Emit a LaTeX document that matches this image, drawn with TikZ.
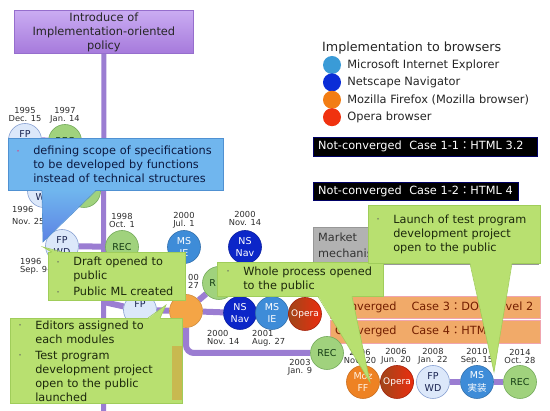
\documentclass[tikz,border=0pt]{standalone}
\usepackage{fontspec}
\setmainfont{DejaVu Sans}
\setsansfont{DejaVu Sans}
\newfontfamily\cjk{Noto Sans CJK JP}
\usepackage{xcolor}
\definecolor{policytop}{RGB}{202,172,242}
\definecolor{policybottom}{RGB}{166,122,220}
\definecolor{policyframe}{RGB}{150,110,205}
\definecolor{barpurple}{RGB}{155,125,210}
\definecolor{fpfill}{RGB}{220,232,250}
\definecolor{fpframe}{RGB}{135,160,210}
\definecolor{fptext}{RGB}{25,35,80}
\definecolor{recfill}{RGB}{160,210,125}
\definecolor{recframe}{RGB}{115,170,90}
\definecolor{rectext}{RGB}{20,60,20}
\definecolor{msie}{RGB}{62,140,216}
\definecolor{nsnav}{RGB}{12,38,200}
\definecolor{mozorange}{RGB}{238,130,35}
\definecolor{mozlight}{RGB}{244,165,70}
\definecolor{operared}{RGB}{235,45,15}
\definecolor{operabrown}{RGB}{160,70,25}
\definecolor{legie}{RGB}{58,155,215}
\definecolor{legns}{RGB}{10,45,215}
\definecolor{legmoz}{RGB}{242,125,20}
\definecolor{legop}{RGB}{240,50,15}
\definecolor{calloutblue}{RGB}{112,182,238}
\definecolor{calloutdeep}{RGB}{92,130,228}
\definecolor{calloutblueframe}{RGB}{80,145,210}
\definecolor{bluetext}{RGB}{12,25,65}
\definecolor{bulpink}{RGB}{200,90,150}
\definecolor{calloutgreen}{RGB}{184,224,112}
\definecolor{calloutgreenframe}{RGB}{160,205,90}
\definecolor{greentext}{RGB}{28,40,12}
\definecolor{bulgray}{RGB}{120,130,100}
\definecolor{convorange}{RGB}{241,170,105}
\definecolor{convframe}{RGB}{240,165,175}
\definecolor{convtext}{RGB}{115,30,0}
\definecolor{marketgray}{RGB}{178,178,178}
\definecolor{datetext}{RGB}{45,45,45}
\definecolor{khaki}{RGB}{200,185,80}
\usepackage{tikz}
\usetikzlibrary{positioning,backgrounds}
\newcommand{\bul}{\makebox[18pt][l]{\hspace{1pt}\raisebox{1.5pt}{\textcolor{bulgray}{\fontsize{6}{6}\selectfont\textbullet}}}}
\newcommand{\bulp}{\makebox[18pt][l]{\hspace{1pt}\raisebox{1.5pt}{\textcolor{bulpink}{\fontsize{6}{6}\selectfont\textbullet}}}}
\newcommand{\ind}{\hspace*{18pt}}
\tikzset{
  policy_box/.style={rectangle,draw=policyframe,top color=policytop,
    bottom color=policybottom,line width=0.8pt,anchor=north west,
    minimum width=179pt,minimum height=43pt,align=center,
    text=black!85,font=\fontsize{11.4}{14}\selectfont,inner sep=0pt},
  ev/.style={circle,minimum size=33pt,inner sep=0pt,align=center,
    line width=0.6pt,font=\fontsize{9.5}{12.5}\selectfont},
  ev_fp/.style={ev,draw=fpframe,fill=fpfill,text=fptext},
  ev_rec/.style={ev,draw=recframe,fill=recfill,text=rectext},
  ev_ie/.style={ev,draw=msie!80!black,fill=msie,text=white},
  ev_ns/.style={ev,draw=nsnav!80!black,fill=nsnav,text=white},
  ev_moz/.style={ev,draw=mozorange!85!black,fill=mozorange,text=white!90!orange},
  ev_opera/.style={ev,draw=operared!70!black,left color=operabrown,
    right color=operared,text=white},
  date_lbl/.style={font=\fontsize{8.3}{8}\selectfont,align=center,
    inner sep=0pt,text=datetext},
  lg_dot/.style={circle,minimum size=18pt,inner sep=0pt},
  lg_txt/.style={font=\fontsize{11.4}{13}\selectfont,inner sep=0pt,text=black!85},
  case_black/.style={rectangle,fill=black,draw=black!60!blue,anchor=north west,
    text=white,align=left,font=\fontsize{11.3}{13}\selectfont,
    inner xsep=5pt,inner ysep=0pt},
  case_conv/.style={rectangle,fill=convorange,draw=convframe,anchor=north west,
    text=convtext,align=left,font=\fontsize{11.3}{13}\selectfont,
    inner xsep=5pt,inner ysep=0pt,text width=200pt},
  market_box/.style={rectangle,fill=marketgray,draw=marketgray!85!black,
    anchor=north west,text=black!80,align=left,
    font=\fontsize{11.3}{16}\selectfont,inner xsep=5pt,inner ysep=0pt,
    text width=215pt,minimum height=37pt},
  co_blue/.style={rectangle,fill=calloutblue,draw=calloutblueframe,
    line width=0.6pt,anchor=north west,align=left,text=bluetext,
    font=\fontsize{11.3}{14}\selectfont,inner ysep=0pt},
  co_green/.style={rectangle,fill=calloutgreen,draw=calloutgreenframe,
    line width=0.6pt,anchor=north west,align=left,text=greentext,
    font=\fontsize{11.3}{14}\selectfont,inner ysep=0pt},
  bar/.style={line width=6pt,draw=barpurple},
}

\begin{document}
\begin{tikzpicture}[x=1pt,y=-1pt]
  \useasboundingbox (0,0) rectangle (550,411);
  % policy box and trunk end
  \node (policy) [policy_box] at (14,10)
    {Introduce of\\Implementation-oriented\\policy};
  \coordinate (trunk_end) at (103.5,411);
  \coordinate (j_fp2) at (103.5,302);

  % legend
  \node (lg_title) [lg_txt,font=\fontsize{12.7}{14}\selectfont,anchor=west]
    at (322,48) {Implementation to browsers};
  \node (lg_ie) [lg_dot,fill=legie] at (332,65) {};
  \node (lg_ns) [lg_dot,fill=legns,below=-1pt of lg_ie] {};
  \node (lg_moz) [lg_dot,fill=legmoz,below=-1pt of lg_ns] {};
  \node (lg_op) [lg_dot,fill=legop,below=-1pt of lg_moz] {};
  \node (lgt_ie) [lg_txt,right=6pt of lg_ie] {Microsoft Internet Explorer};
  \node (lgt_ns) [lg_txt,right=6pt of lg_ns] {Netscape Navigator};
  \node (lgt_moz) [lg_txt,right=6pt of lg_moz] {Mozilla Firefox (Mozilla browser)};
  \node (lgt_op) [lg_txt,right=6pt of lg_op] {Opera browser};

  % case boxes
  \node (case11) [case_black,text width=214pt,minimum height=19pt] at (313,137)
    {Not-converged\ \ Case 1-1{\cjk ：}HTML 3.2};
  \node (case12) [case_black,text width=195pt,minimum height=18pt] at (313,182)
    {Not-converged\ \ Case 1-2{\cjk ：}HTML 4};
  \node (market) [market_box] at (313,227) {Market\\mechanism};
  \node (case3) [case_conv,minimum height=22pt] at (330,296)
    {Converged\hspace{15pt}Case 3{\cjk ：}DOM Level 2};
  \node (case4) [case_conv,minimum height=23pt] at (330,320)
    {Converged\hspace{15pt}Case 4{\cjk ：}HTML5};

  % events, first cluster
  \node (c_fp95) [ev_fp] at (25,140) {FP\\\phantom{WD}};
  \node (c_rec97) [ev_rec] at (65,141) {REC};
  \node (d_fp95) [date_lbl,above=1pt of c_fp95] {1995\\Dec. 15};
  \node (d_rec97) [date_lbl,above=1pt of c_rec97] {1997\\Jan. 14};
  \node (c_wd96) [ev_fp] at (44,191) {\phantom{FP}\\WD};
  \node (c_rec96) [ev_rec] at (84,191) {};
  \node (d_wd96) [date_lbl,font=\fontsize{8.3}{12}\selectfont,align=left,
    anchor=north west] at (12,206) {1996\\Nov. 25};
  \node (c_fpwd96) [ev_fp] at (62,246) {FP\\WD};
  \node (d_fpwd96) [date_lbl,align=left,anchor=north west] at (20,258)
    {1996\\Sep. 9-};
  \node (c_rec98) [ev_rec] at (122,247) {REC};
  \node (d_rec98) [date_lbl,above=2pt of c_rec98] {1998\\Oct. 1};
  \node (c_ie00) [ev_ie] at (184,247) {MS\\IE};
  \node (d_ie00) [date_lbl,above=2pt of c_ie00] {2000\\Jul. 1};
  \node (c_ns00) [ev_ns] at (245,247) {NS\\Nav};
  \node (d_ns00) [date_lbl,above=4pt of c_ns00] {2000\\Nov. 14};

  % events, second row
  \node (c_fp2) [ev_fp] at (140,310) {FP\\\phantom{WD}};
  \node (c_moz00) [ev,draw=mozlight!85!black,fill=mozlight] at (186,311) {};
  \node (d_moz00) [date_lbl,align=right,anchor=north east] at (199,274) {00\\27};
  \node (c_rec00) [ev_rec] at (219,283) {R\phantom{EC}};
  \node (c_ns00b) [ev_ns] at (240,313) {NS\\Nav};
  \node (c_ie01) [ev_ie] at (272,313) {MS\\IE};
  \node (c_op01) [ev_opera,font=\fontsize{9}{11}\selectfont] at (305,314) {Opera};
  \node (d_ns00b) [date_lbl,align=left,anchor=north west] at (207,330)
    {2000\\Nov. 14};
  \node (d_ie01) [date_lbl,align=left,anchor=north west] at (252,330)
    {2001\\Aug. 27};
  \node (c_rec03) [ev_rec] at (327,353) {REC};
  \node (d_rec03) [date_lbl,anchor=north] at (300,359) {2003\\Jan. 9};

  % events, bottom row
  \node (c_moz06) [ev_moz] at (363,382) {Moz\\FF};
  \node (c_op06) [ev_opera,font=\fontsize{9}{11}\selectfont] at (397,382) {Opera};
  \node (c_fp08) [ev_fp] at (433,382) {FP\\WD};
  \node (c_ms10) [ev_ie] at (477,382) {MS\\{\cjk 実装}};
  \node (c_rec14) [ev_rec] at (520,382) {REC};
  \node (d_moz06) [date_lbl,above=1pt of c_moz06,xshift=-3pt] {2006\\Nov. 20};
  \node (d_op06) [date_lbl,above=1pt of c_op06,xshift=-1pt] {2006\\Jun. 20};
  \node (d_fp08) [date_lbl,above=1pt of c_fp08] {2008\\Jan. 22};
  \node (d_ms10) [date_lbl,above=1pt of c_ms10] {2010\\Sep. 15};
  \node (d_rec14) [date_lbl,above=1pt of c_rec14] {2014\\Oct. 28};

  % timeline bars
  \begin{scope}[on background layer]
    \fill[white] (0,0) rectangle (550,411);
    \draw[bar,line width=5pt] (policy.south) -- (trunk_end);
    \draw[bar] (c_fp95) -- (c_rec97);
    \draw[bar] (c_fpwd96) -- (c_rec98);
    \draw[bar] (j_fp2) -- (c_fp2);
    \draw[bar] (c_fp2) -- (c_moz00);
    \draw[bar] (c_moz00) -- (c_rec00);
    \draw[bar] (c_moz00) -- (c_ns00b);
    \draw[bar,rounded corners=8pt] (c_moz00) |- (c_rec03);
    \draw[bar] (c_fp08) -- (c_ms10);
    \draw[bar] (c_ms10) -- (c_rec14);
  \end{scope}

  % callouts
  \node (co_scope) [co_blue,inner xsep=7pt,text width=201pt,minimum height=52pt]
    at (8,138) {\bulp defining scope of specifications\\
    \ind to be developed by functions\\\ind instead of technical structures};
  \coordinate (tip_scope) at (43,242);
  \path[top color=calloutblue,bottom color=calloutdeep]
    ([xshift=34pt,yshift=1pt]co_scope.south west) -- (tip_scope)
    -- ([xshift=88pt,yshift=1pt]co_scope.south west) -- cycle;
  \draw[calloutblueframe,line width=0.6pt] ([xshift=34pt]co_scope.south west)
    -- (tip_scope) -- ([xshift=88pt]co_scope.south west);

  \node (co_draft) [co_green,inner xsep=7pt,text width=123pt,minimum height=48pt]
    at (48,252) {\bul Draft opened to\\\ind public\\[2pt]\bul Public ML created};
  \coordinate (tip_draft) at (43,247);
  \fill[calloutgreen] ([xshift=4pt,yshift=-1pt]co_draft.north west) -- (tip_draft)
    -- ([xshift=14pt,yshift=-1pt]co_draft.north west) -- cycle;
  \draw[calloutgreenframe,line width=0.6pt] ([xshift=4pt]co_draft.north west)
    -- (tip_draft) -- ([xshift=14pt]co_draft.north west);

  \node (co_editors) [co_green,inner xsep=7pt,text width=158pt,minimum height=85pt]
    at (10,318) {\bul Editors assigned to\\\ind each modules\\[2pt]
    \bul Test program\\\ind development project\\\ind open to the public\\
    \ind launched};
  \fill[khaki] (172,346) rectangle (182,400);
  \coordinate (tip_editors) at (166,305);
  \fill[calloutgreen] ([xshift=138pt,yshift=-1pt]co_editors.north west)
    -- (tip_editors) -- ([xshift=150pt,yshift=-1pt]co_editors.north west) -- cycle;
  \draw[calloutgreenframe,line width=0.6pt] ([xshift=138pt]co_editors.north west)
    -- (tip_editors) -- ([xshift=150pt]co_editors.north west);

  \node (co_whole) [co_green,inner xsep=8pt,text width=150pt,minimum height=34pt]
    at (217,262) {\bul Whole process opened\\\ind to the public};
  \coordinate (tip_whole) at (370,382);
  \fill[calloutgreen] ([xshift=101pt,yshift=1pt]co_whole.south west)
    -- (tip_whole) -- ([xshift=135pt,yshift=1pt]co_whole.south west) -- cycle;
  \draw[calloutgreenframe,line width=0.6pt] ([xshift=101pt]co_whole.south west)
    -- (tip_whole) -- ([xshift=135pt]co_whole.south west);

  \node (co_launch) [co_green,inner xsep=7pt,text width=158pt,minimum height=58pt]
    at (368,205) {\bul Launch of test program\\\ind development project\\
    \ind open to the public};
  \coordinate (tip_launch) at (494,372);
  \fill[calloutgreen] ([xshift=102pt,yshift=1pt]co_launch.south west)
    -- (tip_launch) -- ([xshift=144pt,yshift=1pt]co_launch.south west) -- cycle;
  \draw[calloutgreenframe,line width=0.6pt] ([xshift=102pt]co_launch.south west)
    -- (tip_launch) -- ([xshift=144pt]co_launch.south west);
\end{tikzpicture}
\end{document}
